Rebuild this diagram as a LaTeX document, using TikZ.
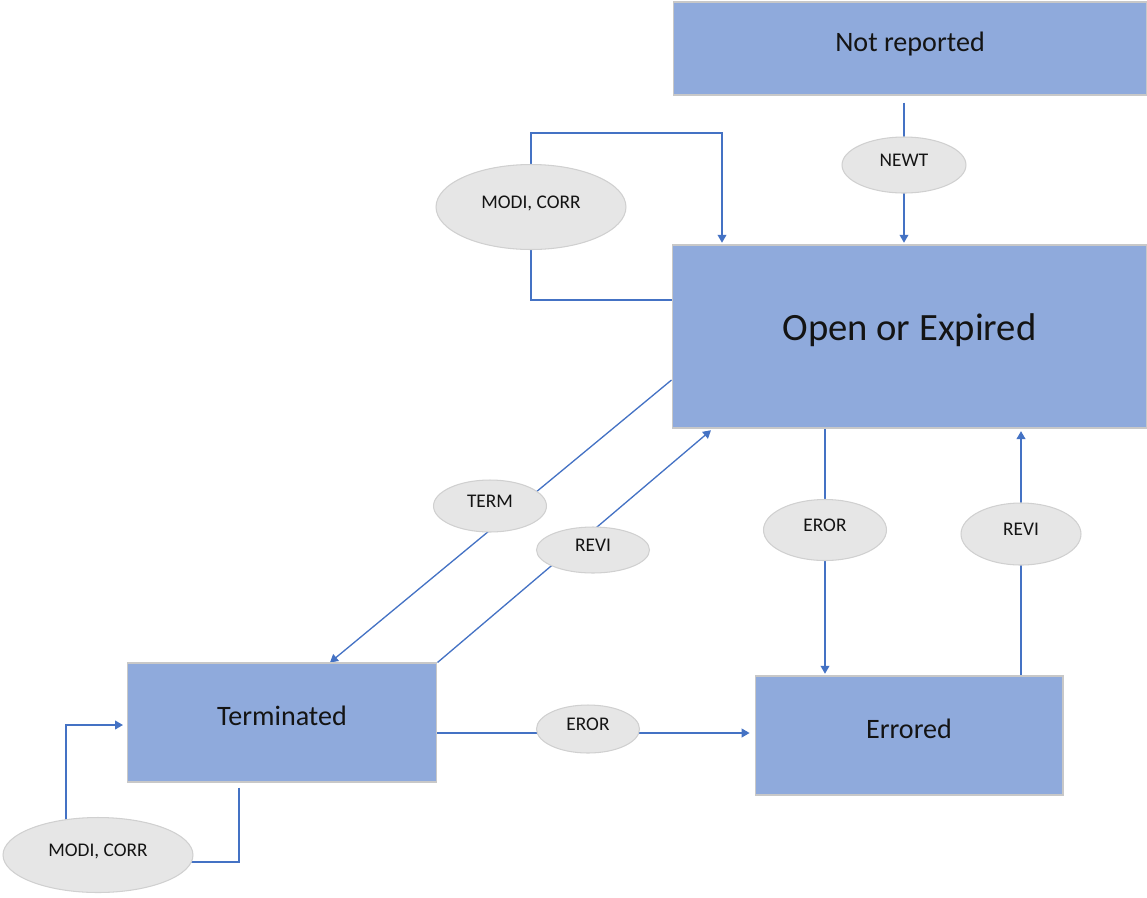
\documentclass[tikz,border=0pt]{standalone}
\usepackage{fontspec}
\setmainfont{Carlito}
\usepackage{tikz}
\usetikzlibrary{shapes,arrows.meta,positioning,backgrounds,calc}
\definecolor{boxfill}{RGB}{143,170,220}
\definecolor{boxline}{RGB}{200,200,200}
\definecolor{ovalfill}{RGB}{230,230,230}
\definecolor{ovalline}{RGB}{208,208,208}
\definecolor{linkblue}{RGB}{68,114,196}
\definecolor{ink}{RGB}{20,20,20}

\begin{document}
\begin{tikzpicture}[x=0.02cm,y=-0.02cm,
  state/.style={draw=boxline,fill=boxfill,line width=0.6pt,text=ink,inner sep=0pt,text height=9pt,text depth=6pt,font=\fontsize{16}{19}\selectfont},
  event/.style={ellipse,draw=ovalline,fill=ovalfill,line width=0.6pt,text=ink,inner sep=0pt,text height=6pt,text depth=4pt,font=\fontsize{11}{13}\selectfont},
  link/.style={draw=linkblue,line width=0.75pt},
  arr/.style={link,-{Triangle[width=5pt,length=4.5pt]}}]
\useasboundingbox (0,0) rectangle (1147,897);
% states
\node[state,minimum width=9.48cm,minimum height=1.86cm] (notrep) at (910,48.5) {Not reported};
\node[state,minimum width=9.5cm,minimum height=3.66cm,text height=11pt,text depth=7pt,font=\fontsize{22}{26}\selectfont] (open) at (909.5,336.5) {Open or Expired};
\node[state,minimum width=6.2cm,minimum height=2.38cm] (term) at (282,722.5) {Terminated};
\node[state,minimum width=6.16cm,minimum height=2.38cm] (err) at (909,735.5) {Errored};
% events
\node[event,minimum width=2.48cm,minimum height=1.12cm] (newt) at (904,165) {NEWT};
\node[event,minimum width=3.8cm,minimum height=1.7cm] (modtop) at (531,207) {MODI, CORR};
\node[event,minimum width=2.26cm,minimum height=1.04cm] (termev) at (490,506) {TERM};
\node[event,minimum width=2.26cm,minimum height=0.92cm] (revid) at (593,550) {REVI};
\node[event,minimum width=2.46cm,minimum height=1.22cm] (erorv) at (825,530) {EROR};
\node[event,minimum width=2.4cm,minimum height=1.24cm] (revir) at (1021,534) {REVI};
\node[event,minimum width=2.06cm,minimum height=0.96cm] (erorh) at (588,729) {EROR};
\node[event,minimum width=3.8cm,minimum height=1.5cm] (modbot) at (98,855) {MODI, CORR};
% transitions
\begin{pgfonlayer}{background}
\draw[link] ([yshift=-0.14cm]notrep.south -| newt.center) -- (newt.center);
\draw[arr,shorten >=1pt] (newt.center) -- (open.north -| newt.center);
\draw[link] (open.west |- 0,300) -| (modtop.center);
\draw[arr,shorten >=1pt] (modtop.center) -- ++(0,-74) -| (open.north -| 722,0);
\draw[arr] (open.west |- 0,380) -- (term.north -| 330,0);
\draw[arr,shorten >=1.5pt] (term.north east) -- (open.south -| 713,0);
\draw[arr,shorten >=1pt] (open.south -| erorv.center) -- (err.north -| erorv.center);
\draw[arr,shorten >=1.5pt] (err.north -| revir.center) -- (open.south -| revir.center);
\draw[arr,shorten >=2.8pt] (term.east |- 0,733) -- (err.west |- 0,733);
\draw[link] ([yshift=-0.1cm]term.south -| 239,0) |- (modbot.center |- 0,862);
\draw[arr,shorten >=2pt] (modbot.center -| 66,0) |- (term.west |- 0,725);
\end{pgfonlayer}
\end{tikzpicture}
\end{document}
